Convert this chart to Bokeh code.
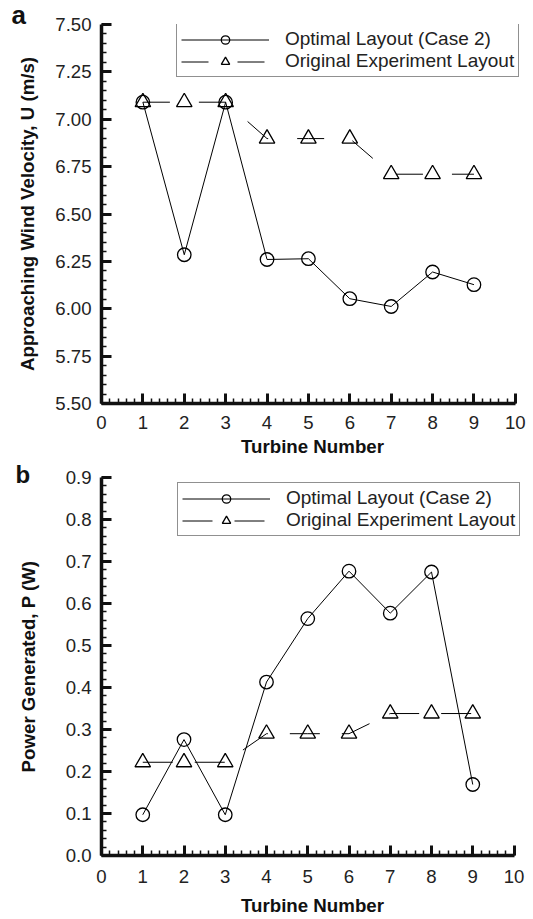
from bokeh.plotting import figure
from bokeh.layouts import column
from bokeh.models import (FixedTicker, PrintfTickFormatter, Legend, LegendItem, Range1d, Title)
from bokeh.embed import file_html
from bokeh.resources import INLINE
import numpy as np

turbines = [1, 2, 3, 4, 5, 6, 7, 8, 9]
u_optimal = [7.09, 6.285, 7.09, 6.26, 6.264, 6.053, 6.012, 6.194, 6.127]
u_original = [7.09, 7.09, 7.09, 6.898, 6.898, 6.898, 6.71, 6.71, 6.71]
p_optimal = [0.097, 0.276, 0.097, 0.413, 0.564, 0.677, 0.577, 0.675, 0.169]
p_original = [0.222, 0.222, 0.222, 0.29, 0.29, 0.29, 0.338, 0.338, 0.338]

x_ticks = list(range(0, 11))
u_ticks = [5.5, 5.75, 6.0, 6.25, 6.5, 6.75, 7.0, 7.25, 7.5]
p_ticks = [0.0, 0.1, 0.2, 0.3, 0.4, 0.5, 0.6, 0.7, 0.8, 0.9]

label_opt = "Optimal Layout (Case 2)"
label_orig = "Original Experiment Layout"

FONT = "Liberation Sans"


def style_axis(ax, ticks, minor, fmt):
    ax.ticker = FixedTicker(ticks=ticks, minor_ticks=minor)
    ax.formatter = PrintfTickFormatter(format=fmt)
    ax.axis_line_width = 3.5
    ax.axis_line_color = "#111111"
    ax.major_tick_in = 10
    ax.major_tick_out = 0
    ax.major_tick_line_width = 3
    ax.major_tick_line_color = "#111111"
    ax.minor_tick_in = 5
    ax.minor_tick_out = 0
    ax.minor_tick_line_width = 1.5
    ax.minor_tick_line_color = "#111111"
    ax.major_label_text_font = FONT
    ax.major_label_text_font_size = "18.6px"
    ax.major_label_text_color = "#222222"
    ax.axis_label_text_font = FONT
    ax.axis_label_text_font_style = "bold"
    ax.axis_label_text_font_size = "18.7px"
    ax.axis_label_text_color = "#111111"


def make_panel(h, bl, br, bt, bb, s1, s2, ylab_standoff, xend, yr, yticks, yfmt, ylabel,
               opt, orig, dash, leg_xy, letter, letter_size, letter_off, letter_standoff):
    p = figure(width=533, height=h, output_backend="svg", toolbar_location=None,
               x_range=Range1d(0, xend), y_range=Range1d(*yr),
               min_border_left=bl, min_border_right=br,
               min_border_top=bt, min_border_bottom=bb)
    p.outline_line_color = None
    p.xgrid.visible = False
    p.ygrid.visible = False
    p.background_fill_color = "white"
    p.border_fill_color = "white"

    style_axis(p.xaxis[0], x_ticks, list(np.round(np.arange(0, 10.001, 0.2), 3)), "%d")
    p.xaxis[0].bounds = (0, 10)
    p.xaxis[0].axis_label = "Turbine Number"
    p.xaxis[0].major_label_standoff = s1
    p.xaxis[0].axis_label_standoff = s2

    step = (yticks[1] - yticks[0]) / 5
    yminor_list = list(np.round(np.arange(yr[0], yr[1] + 1e-9, step), 4))
    style_axis(p.yaxis[0], yticks, yminor_list, yfmt)
    p.yaxis[0].axis_label = ylabel
    p.yaxis[0].major_label_standoff = 10
    p.yaxis[0].axis_label_standoff = ylab_standoff

    l1 = p.line(turbines, opt, line_color="black", line_width=1)
    m1 = p.scatter(turbines, opt, marker="circle", size=13.5, fill_color=None,
                   line_color="black", line_width=1.3)
    l2 = p.line(turbines, orig, line_color="black", line_width=1, line_dash=dash)
    m2 = p.scatter(turbines, orig, marker="triangle", size=15.5, fill_color=None,
                   line_color="black", line_width=1.3)

    legend = Legend(items=[LegendItem(label=label_opt, renderers=[l1, m1]),
                           LegendItem(label=label_orig, renderers=[l2, m2])],
                    location=leg_xy)
    legend.padding = 4
    legend.spacing = 0
    legend.margin = 0
    legend.glyph_width = 88
    legend.glyph_height = 21
    legend.label_height = 21
    legend.label_standoff = 16
    legend.label_text_font = FONT
    legend.label_text_font_size = "19px"
    legend.label_text_color = "#222222"
    legend.border_line_color = "#222222"
    legend.border_line_width = 1.2
    legend.background_fill_color = "white"
    legend.background_fill_alpha = 1
    p.add_layout(legend)

    t = Title(text=letter, align="left", offset=letter_off, text_font=FONT,
              text_font_style="bold", text_font_size=letter_size, text_color="#111111",
              standoff=letter_standoff, vertical_align="middle")
    p.add_layout(t, "above")
    return p


pa = make_panel(460, 101, 8, 24, 57, 12, 4, 14, 10.197, (5.5, 7.5), u_ticks, "%.2f",
                "Approaching Wind Velocity, U (m/s)", u_optimal, u_original,
                "27 29", (75, 326), "a", "26px", -90, -13)

pb = make_panel(459, 99, 10, 17, 64, 14, 9, 24, 10.23, (0.0, 0.9), p_ticks, "%.1f",
                "Power Generated, P (W)", p_optimal, p_original,
                "30 22", (76, 319), "b", "24px", -86, -22)

layout = column(pa, pb)
open("out.html", "w").write(file_html(layout, INLINE))
